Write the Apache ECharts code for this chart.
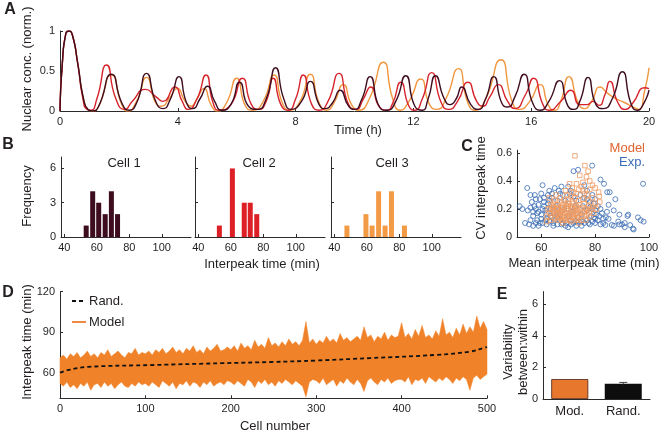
<!DOCTYPE html>
<html><head><meta charset="utf-8">
<script src="https://cdn.jsdelivr.net/npm/echarts@6/dist/echarts.min.js"></script>
<style>html,body{margin:0;padding:0;background:#fff}#c{width:667px;height:436px}</style>
</head><body><div id="c"></div>
<script>
// ---------- Panel A: nuclear concentration traces [time h, norm. conc.] ----------
const cell1Trace = [[0,0],[0.08,0.6],[0.2,0.97],[0.3,1],[0.42,0.95],[0.6,0.6],[0.8,0.15],[0.95,0.02],[1.1,0],[1.3,0.05],[1.75,0.46],[2.1,0.1],[2.35,0.01],[2.6,0.1],[2.94,0.47],[3.25,0.12],[3.5,0.03],[3.75,0.15],[4.04,0.43],[4.3,0.1],[4.5,0.03],[4.75,0.15],[5.01,0.31],[5.25,0.12],[5.5,0.01],[5.8,0.08],[6.1,0.36],[6.4,0.06],[6.7,0.02],[7.0,0.15],[7.32,0.54],[7.6,0.15],[7.85,0.02],[8.2,0.12],[8.5,0.37],[8.8,0.08],[9.0,0.03],[9.25,0.1],[9.51,0.26],[9.8,0.06],[10.0,0.02],[10.25,0.15],[10.53,0.43],[10.85,0.05],[11.1,0.01],[11.4,0.12],[11.74,0.44],[12.05,0.06],[12.3,0.01],[12.5,0.15],[12.75,0.44],[13.05,0.15],[13.25,0.08],[13.45,0.15],[13.64,0.3],[13.95,0.08],[14.2,0.02],[14.45,0.15],[14.73,0.43],[15.0,0.1],[15.2,0.05],[15.45,0.18],[15.76,0.46],[16.05,0.1],[16.3,0.01],[16.6,0.12],[16.96,0.38],[17.25,0.06],[17.45,0.02],[17.65,0.12],[17.93,0.42],[18.2,0.08],[18.45,0.03],[18.75,0.15],[19.09,0.49],[19.4,0.08],[19.6,0.01],[19.8,0.08],[20,0.26]];
const cell2Trace = [[0,0],[0.08,0.6],[0.2,0.97],[0.3,1],[0.42,0.95],[0.6,0.6],[0.78,0.15],[0.92,0.02],[1.05,0.01],[1.25,0.15],[1.58,0.575],[1.9,0.15],[2.2,0.02],[2.45,0.12],[2.9,0.27],[3.25,0.18],[3.5,0.12],[3.9,0.3],[4.15,0.12],[4.35,0.02],[4.65,0.15],[4.96,0.45],[5.2,0.1],[5.4,0.01],[5.8,0.08],[6.19,0.41],[6.5,0.08],[6.75,0.02],[7.0,0.12],[7.24,0.41],[7.5,0.08],[7.75,0.01],[8.0,0.15],[8.26,0.45],[8.55,0.08],[8.8,0.01],[9.1,0.12],[9.47,0.47],[9.8,0.08],[10.05,0.02],[10.3,0.15],[10.55,0.3],[10.85,0.05],[11.1,0.01],[11.3,0.1],[11.57,0.36],[11.85,0.06],[12.05,0.01],[12.3,0.15],[12.62,0.48],[12.95,0.1],[13.2,0.02],[13.5,0.12],[13.85,0.36],[14.15,0.12],[14.35,0.06],[14.6,0.18],[14.88,0.33],[15.2,0.12],[15.45,0.03],[15.8,0.2],[16.08,0.41],[16.4,0.08],[16.6,0.01],[17.0,0.12],[17.35,0.26],[17.65,0.08],[17.9,0.08],[18.1,0.12],[18.3,0.07],[18.5,0.2],[18.67,0.37],[18.95,0.1],[19.2,0.02],[19.45,0.1],[19.86,0.29],[20,0.28]];
const cell3Trace = [[0,0],[0.08,0.6],[0.2,0.97],[0.3,1],[0.42,0.95],[0.6,0.6],[0.8,0.15],[0.95,0.02],[1.1,0],[1.3,0.05],[1.75,0.45],[2.1,0.08],[2.3,0.0],[2.6,0.12],[2.94,0.42],[3.25,0.1],[3.45,0.06],[3.7,0.15],[3.98,0.28],[4.25,0.12],[4.45,0.06],[4.65,0.15],[4.88,0.28],[5.15,0.06],[5.35,0.0],[5.65,0.1],[6.0,0.41],[6.3,0.06],[6.55,0.01],[6.9,0.12],[7.27,0.45],[7.55,0.1],[7.8,0.01],[8.15,0.12],[8.5,0.46],[8.8,0.1],[9.05,0.01],[9.3,0.1],[9.62,0.33],[9.9,0.08],[10.15,0.01],[10.5,0.15],[10.98,0.61],[11.3,0.15],[11.55,0.01],[11.85,0.12],[12.25,0.4],[12.55,0.08],[12.8,0.02],[13.1,0.15],[13.53,0.53],[13.85,0.1],[14.1,0.01],[14.45,0.15],[14.97,0.64],[15.35,0.12],[15.6,0.02],[15.95,0.12],[16.3,0.33],[16.6,0.06],[16.8,0.01],[17.0,0.12],[17.28,0.43],[17.6,0.1],[17.8,0.03],[18.05,0.12],[18.34,0.3],[18.6,0.22],[18.9,0.15],[19.2,0.1],[19.45,0.05],[19.65,0.02],[19.85,0.25],[20,0.54]];
const timeTicksA = [0,4,8,12,16,20];
const concTicksA = [0,0.5,1];

// ---------- Panel B: interpeak time histograms ----------
const cell1Bins = [53.5,57.5,61.2,65.2,69,72.8];
const cell1Counts = [1,4,3,2,4,2];
const cell2Bins = [53,61,68.3,72,76];
const cell2Counts = [1,6,3,3,2];
const cell3Bins = [47.8,59.5,63.3,67.3,71.3,75.2,83.2];
const cell3Counts = [1,2,1,4,1,4,1];
const histXTicks = [40,60,80,100];
const histYTicks = [0,3,6];

// ---------- Panel C: CV vs mean interpeak time ----------
const expPoints = [[52,0.22],[54.8,0.35],[56,0.3],[57.6,0.3],[56.5,0.25],[55,0.19],[54,0.1],[55.5,0.09],[57,0.15],[58,0.2],[58.5,0.12],[59,0.08],[57.5,0.22],[59.5,0.27],[60.5,0.37],[61,0.22],[60,0.16],[61.5,0.12],[62,0.09],[60.5,0.1],[59,0.18],[58,0.27],[62.5,0.3],[63,0.26],[63.5,0.2],[62,0.17],[64,0.14],[63,0.11],[64.5,0.08],[65,0.35],[66.5,0.33],[64,0.28],[65.5,0.22],[66,0.18],[67,0.12],[66,0.09],[68,0.1],[69,0.08],[70,0.07],[71,0.09],[72,0.1],[73,0.08],[74,0.11],[75,0.08],[76,0.1],[77,0.12],[78,0.09],[79,0.11],[80,0.1],[81,0.12],[82,0.09],[83,0.1],[67.5,0.36],[70,0.36],[71,0.33],[72,0.47],[73.7,0.48],[76,0.37],[78.9,0.51],[77,0.33],[79,0.3],[80,0.27],[81,0.22],[82,0.41],[83.3,0.38],[84.5,0.32],[85.4,0.32],[87.5,0.27],[85,0.23],[84.4,0.18],[86.9,0.19],[88.6,0.11],[86.2,0.086],[83.8,0.086],[85,0.13],[91,0.1],[92.3,0.16],[93,0.085],[94.3,0.054],[95.9,0.14],[96.9,0.12],[97.8,0.38],[90,0.09],[89,0.16],[92,0.15],[80.5,0.16],[82,0.2],[79,0.2],[78,0.25],[76,0.28],[74.5,0.3],[73,0.26],[68,0.3],[69,0.26],[66,0.26],[68.5,0.2],[70,0.15],[71.5,0.18],[73.5,0.14],[75,0.16],[77,0.19],[78.5,0.15],[80,0.13],[75.5,0.22],[72.5,0.22],[67,0.16],[64.5,0.17],[61,0.28],[63,0.33],[60,0.13],[58.5,0.17],[56,0.12],[57,0.08],[53,0.2],[61.5,0.19],[62.5,0.24],[65,0.12],[84,0.14],[87,0.08],[89,0.09],[98,0.11],[94,0.06],[91,0.07],[60.5,0.2],[61,0.25],[62,0.13],[63.5,0.15],[59.5,0.1],[58,0.1],[57,0.18],[56,0.21],[64.5,0.1],[66,0.14],[67.5,0.09],[69.5,0.1],[71,0.12],[73,0.11],[75,0.11],[77.5,0.1],[79.5,0.14],[81.5,0.15],[83,0.13],[82.5,0.17],[80,0.19],[78,0.21],[79.5,0.24],[77,0.27],[72,0.29],[70.5,0.31],[67,0.31],[64,0.31],[60,0.31],[59,0.23]];
const modelPoints = [[72.5,0.58],[76.2,0.51],[77.4,0.47],[76.8,0.43],[78,0.4],[74.3,0.44],[73.1,0.38],[74.9,0.36],[81.3,0.32],[81.5,0.29],[81.7,0.25],[70.5,0.38],[71.5,0.35],[69,0.33],[72,0.32],[75.5,0.33],[77,0.3],[79,0.28],[80,0.24],[80.5,0.2],[79.5,0.17],[78,0.14],[76.5,0.12],[74,0.1],[71,0.11],[68,0.1],[66,0.12],[64,0.14],[63,0.17],[62.5,0.2],[63.5,0.23],[65,0.26],[67,0.28],[68.5,0.26],[70,0.27],[72.5,0.28],[74,0.26],[76,0.24],[77.5,0.22],[78.5,0.2],[76,0.18],[74.5,0.2],[73,0.22],[71,0.22],[69.5,0.2],[67.5,0.21],[66,0.2],[64.5,0.19],[65.5,0.16],[67,0.15],[68.5,0.14],[70,0.13],[72,0.14],[73.5,0.16],[75,0.15],[70.5,0.17],[69,0.17],[67,0.18],[66,0.23],[68,0.23],[71.5,0.25],[73.5,0.19],[75,0.12],[77,0.16],[65,0.13],[63.5,0.12],[62,0.15],[64,0.21],[69.5,0.3],[71,0.29],[73,0.31],[74,0.34],[76,0.31],[78,0.34],[80,0.35],[79,0.37],[75.5,0.39],[72,0.16],[70,0.2],[68,0.16],[66.5,0.14],[64.5,0.24],[67.5,0.12],[69,0.12],[71,0.19],[73,0.12],[75.5,0.27],[77.5,0.26],[79.5,0.22],[62,0.11],[63,0.28],[65.5,0.3],[70,0.24],[68,0.19],[72.5,0.2],[66.5,0.17],[74,0.23],[76.5,0.2],[71.5,0.15],[69.5,0.22],[67,0.25],[65,0.18],[66,0.16],[67.5,0.19],[68.5,0.18],[69.5,0.15],[70.5,0.15],[71.5,0.2],[72.5,0.18],[73.5,0.21],[74.5,0.17],[75.5,0.18],[66.5,0.21],[68,0.21],[69,0.24],[70,0.22],[71,0.17],[72,0.24],[73,0.17],[74,0.14],[67,0.14],[68,0.12],[65.5,0.2],[64,0.17],[63,0.2],[64.5,0.22],[70.5,0.12],[72.5,0.13],[76,0.15],[77,0.2],[78,0.18]];
const meanTicksC = [60,80,100];
const cvTicksC = [0,0.2,0.4,0.6];

// ---------- Panel D: per-cell interpeak time range (every 4th cell) ----------
const bandCells = [0,4,8,12,16,20,24,28,32,36,40,44,48,52,56,60,64,68,72,76,80,84,88,92,96,
  100,104,108,112,116,120,124,128,132,136,140,144,148,152,156,160,164,168,172,176,180,184,188,192,196,
  200,204,208,212,216,220,224,228,232,236,240,244,248,252,256,260,264,268,272,276,280,284,288,292,296,
  300,304,308,312,316,320,324,328,332,336,340,344,348,352,356,360,364,368,372,376,380,384,388,392,396,
  400,404,408,412,416,420,424,428,432,436,440,444,448,452,456,460,464,468,472,476,480,484,488,492,496,500];
const bandUpper = [71,73,70,74,72,75,71,73,76,72,74,71,75,73,77,72,74,76,73,71,75,74,78,73,75,
  74,76,73,77,75,78,74,76,79,75,77,74,78,76,80,75,77,74,79,76,78,81,76,77,79,
  77,80,76,82,78,80,77,84,79,81,78,86,80,82,79,83,80,85,81,83,80,84,98,82,85,
  81,84,82,87,83,85,82,89,84,86,83,85,87,84,94,86,88,83,87,85,90,84,88,86,87,
  97,86,89,85,92,87,95,86,88,85,91,87,100,88,90,86,93,88,96,89,94,90,102,93,98,92];
const bandLower = [52,50,53,49,51,48,52,50,53,47,51,52,49,53,50,52,48,51,53,50,49,52,50,53,51,
  52,50,53,51,49,54,52,50,53,48,52,51,54,50,53,52,49,53,51,54,50,52,53,51,54,
  53,51,54,52,50,55,53,49,54,52,55,51,53,50,54,52,55,53,51,54,52,50,42,53,55,
  54,52,56,51,53,55,50,54,52,56,53,51,55,52,46,54,56,53,51,55,53,56,52,54,55,
  55,53,57,51,55,54,56,52,57,55,53,56,54,57,55,52,56,54,57,55,47,56,58,55,57,59];
const randMeanCells = [0,10,33,111,189,248,300,363,441,480,497,500];
const randMeanValues = [60,62,64.3,65.7,67,67.9,69,70.8,73.2,75.6,78.5,79];
const cellTicksD = [0,100,200,300,400,500];
const timeTicksD = [60,90,120];

// ---------- Panel E: variability between:within ----------
const ratioCats = ['Mod.','Rand.'];
const ratioValues = [1.26,0.97];
const ratioErrCat = ['Rand.'];
const ratioErrLow = [0.93];
const ratioErrHigh = [1.05];
const ratioTicks = [0,2,4,6];

// ---------------------------------------------------------------
const TXT = '#231f20', AX = '#2b2b2b', FONT = 'Liberation Sans';
const lbl = (extra) => Object.assign({color: TXT, fontSize: 11, fontFamily: FONT, margin: 5}, extra || {});
function vAxis(grid, min, max, ticks, opts) {
  opts = opts || {};
  return {
    type: 'value', gridIndex: grid, min: min, max: max,
    axisLine: {show: true, lineStyle: {color: AX, width: 1}},
    axisTick: {show: true, inside: true, length: 3, customValues: ticks, lineStyle: {color: AX}},
    axisLabel: Object.assign(lbl({show: opts.labels !== false}), {customValues: ticks,
      formatter: v => String(+v.toFixed(2))}),
    splitLine: {show: false}
  };
}

const chart = echarts.init(document.getElementById('c'));

const grids = [
  {left: 60, top: 31, width: 589, height: 80},      // A
  {left: 61, top: 157, width: 130, height: 80},     // B1
  {left: 195, top: 157, width: 130, height: 80},    // B2
  {left: 331, top: 157, width: 130, height: 80},    // B3
  {left: 517, top: 150.2, width: 132, height: 86.8},// C
  {left: 60, top: 291.7, width: 427, height: 106.6},// D
  {left: 543, top: 291.6, width: 107, height: 107.4}// E
];

const xAxes = [
  vAxis(0, 0, 20, timeTicksA),
  vAxis(1, 38, 118, histXTicks),
  vAxis(2, 38, 118, histXTicks),
  vAxis(3, 38, 118, histXTicks),
  vAxis(4, 51, 100, meanTicksC),
  vAxis(5, 0, 500, cellTicksD),
  {type: 'category', gridIndex: 6, data: ratioCats,
    axisLine: {lineStyle: {color: AX}}, axisTick: {show: false},
    axisLabel: lbl({fontSize: 13, margin: 6})}
];
const yAxes = [
  vAxis(0, 0, 1, concTicksA),
  vAxis(1, 0, 7, histYTicks),
  vAxis(2, 0, 7, histYTicks, {labels: false}),
  vAxis(3, 0, 7, histYTicks, {labels: false}),
  vAxis(4, 0, 0.62, cvTicksC),
  vAxis(5, 41, 120, timeTicksD),
  vAxis(6, 0, 6.8, ratioTicks)
];

function trace(data, color) {
  return {type: 'line', xAxisIndex: 0, yAxisIndex: 0, data: data, smooth: 0.6,
    symbol: 'none', lineStyle: {color: color, width: 1.4}, silent: true};
}
function hist(idx, bins, counts, color) {
  return {type: 'bar', xAxisIndex: idx, yAxisIndex: idx, barWidth: 5,
    data: bins.map((b, i) => [b, counts[i]]), itemStyle: {color: color}, silent: true};
}

const series = [
  trace(cell3Trace, '#f0963f'),
  trace(cell2Trace, '#d6232b'),
  trace(cell1Trace, '#3d0c1f'),
  hist(1, cell1Bins, cell1Counts, '#3d0c1f'),
  hist(2, cell2Bins, cell2Counts, '#dd1f26'),
  hist(3, cell3Bins, cell3Counts, '#f39a45'),
  {type: 'scatter', xAxisIndex: 4, yAxisIndex: 4, data: expPoints, symbol: 'circle', symbolSize: 5,
    itemStyle: {color: 'rgba(0,0,0,0)', borderColor: '#3b6db4', borderWidth: 1}, silent: true},
  {type: 'scatter', xAxisIndex: 4, yAxisIndex: 4, data: modelPoints, symbol: 'rect', symbolSize: 4.5,
    itemStyle: {color: 'rgba(0,0,0,0)', borderColor: '#ee9a62', borderWidth: 1}, silent: true},
  // Model band: polygon through the per-cell upper and lower values
  {type: 'custom', xAxisIndex: 5, yAxisIndex: 5, silent: true, z: 2,
    data: bandCells.map((c, i) => [c, bandLower[i], bandUpper[i]]),
    renderItem: function (params, api) {
      if (params.dataIndex !== 0) return null;
      const pts = [];
      for (let i = 0; i < bandCells.length; i++) pts.push(api.coord([bandCells[i], bandUpper[i]]));
      for (let i = bandCells.length - 1; i >= 0; i--) pts.push(api.coord([bandCells[i], bandLower[i]]));
      return {type: 'polygon', shape: {points: pts}, style: {fill: '#f0832a', stroke: '#f0832a', lineWidth: 0.5}};
    }},
  {type: 'line', xAxisIndex: 5, yAxisIndex: 5, symbol: 'none', smooth: 0.4, silent: true, z: 3,
    data: randMeanCells.map((c, i) => [c, randMeanValues[i]]),
    lineStyle: {color: '#111', width: 1.8, type: [4, 3]}},
  {type: 'bar', xAxisIndex: 6, yAxisIndex: 6, barWidth: 37, silent: true,
    data: ratioValues.map((v, i) => ({value: v, itemStyle: i === 0
      ? {color: '#e8772e', borderColor: '#4a2010', borderWidth: 0.8}
      : {color: '#0d0d0d'}}))},
  {type: 'custom', xAxisIndex: 6, yAxisIndex: 6, silent: true, z: 5,
    data: ratioErrCat.map((c, i) => [c, ratioErrLow[i], ratioErrHigh[i]]),
    renderItem: function (params, api) {
      const lo = api.coord([api.value(0), api.value(1)]);
      const hi = api.coord([api.value(0), api.value(2)]);
      const w = 4;
      return {type: 'group', children: [
        {type: 'line', shape: {x1: lo[0], y1: lo[1], x2: hi[0], y2: hi[1]}, style: {stroke: '#444', lineWidth: 1}},
        {type: 'line', shape: {x1: hi[0] - w, y1: hi[1], x2: hi[0] + w, y2: hi[1]}, style: {stroke: '#444', lineWidth: 1}}
      ]};
    }}
];

function t(text, x, y, o) {
  o = o || {};
  return {type: 'text', x: x, y: y, rotation: o.rot || 0, z: 10, silent: true,
    style: {text: text, x: 0, y: 0, fill: o.fill || TXT, fontSize: o.size || 13,
      fontFamily: FONT, fontWeight: o.bold ? 'bold' : 'normal',
      align: o.align || 'center', verticalAlign: 'middle', textAlign: o.align || 'center', textVerticalAlign: 'middle', lineHeight: o.lh || 15}};
}
const R = Math.PI / 2;
const graphic = [
  t('A', 10, 10, {bold: true, size: 16}),
  t('Nuclear conc. (norm.)', 27, 69, {rot: R}),
  t('Time (h)', 358, 130),
  t('B', 8, 145, {bold: true, size: 16}),
  t('Frequency', 27, 196, {rot: R}),
  t('Cell 1', 124, 163),
  t('Cell 2', 259, 163),
  t('Cell 3', 392, 163),
  t('Interpeak time (min)', 262, 264),
  t('C', 467, 147, {bold: true, size: 16}),
  t('CV interpeak time', 481, 188, {rot: R}),
  t('Mean interpeak time (min)', 584, 263),
  t('Model', 645, 148, {align: 'right', fill: '#e0642f', size: 13}),
  t('Exp.', 645, 162, {align: 'right', fill: '#3b6db4', size: 13}),
  t('D', 8, 293, {bold: true, size: 16}),
  t('Interpeak time (min)', 27, 342, {rot: R}),
  t('Cell number', 275, 426),
  {type: 'line', z: 10, shape: {x1: 72, y1: 301, x2: 86, y2: 301}, style: {stroke: '#111', lineWidth: 1.8, lineDash: [4, 3]}},
  t('Rand.', 89, 301, {align: 'left'}),
  {type: 'line', z: 10, shape: {x1: 72, y1: 322, x2: 86, y2: 322}, style: {stroke: '#ee7d2d', lineWidth: 1.8}},
  t('Model', 89, 322, {align: 'left'}),
  t('E', 502, 295, {bold: true, size: 16}),
  t('Variability\nbetween:within', 516, 352, {rot: R, lh: 15})
];

chart.setOption({animation: false, backgroundColor: '#fff', grid: grids, xAxis: xAxes, yAxis: yAxes, series: series, graphic: graphic});
</script>
</body></html>
